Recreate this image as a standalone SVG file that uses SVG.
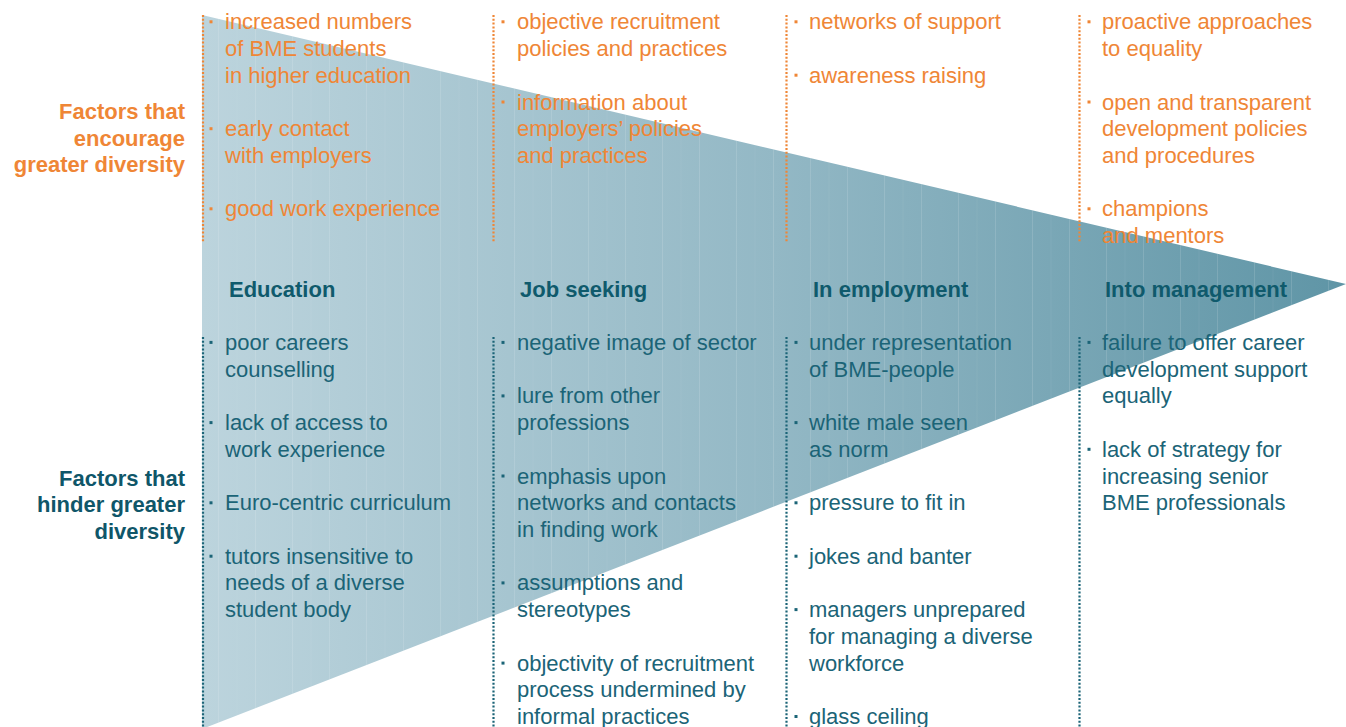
<svg xmlns="http://www.w3.org/2000/svg" width="1346" height="727" viewBox="0 0 1346 727">
  <style>
    text { font-family: "Liberation Sans", Arial, sans-serif; font-size: 22px; }
    .enc { fill: #ef8636; }
    .hin { fill: #1b6477; }
    .head { fill: #0f5a6c; font-weight: bold; }
    .lblEnc { fill: #ef8636; font-weight: bold; text-anchor: end; }
    .lblHin { fill: #0f5669; font-weight: bold; text-anchor: end; }
    .bEnc { fill: #ef8636; }
    .bHin { fill: #1b6477; }
    .dotEnc { stroke: #ef8636; stroke-width: 2.2; stroke-dasharray: 2 1.8; fill: none; }
    .dotHin { stroke: #1b6477; stroke-width: 2.2; stroke-dasharray: 2 1.8; fill: none; }
    .stripe { stroke: #ffffff; stroke-width: 1; }
  </style>
  <defs>
    <linearGradient id="wedgeFill" x1="202" y1="0" x2="1346" y2="0" gradientUnits="userSpaceOnUse">
      <stop offset="0" stop-color="#bcd4dd"/>
      <stop offset="0.5" stop-color="#93b8c5"/>
      <stop offset="1" stop-color="#5f95a6"/>
    </linearGradient>
    <clipPath id="wedgeClip">
      <polygon points="202,15 1346,284 202,729"/>
    </clipPath>
  </defs>

  <!-- wedge narrowing from education to management -->
  <g id="wedge">
    <polygon points="202,15 1346,284 202,729" fill="url(#wedgeFill)"/>
    <g clip-path="url(#wedgeClip)">
      <g class="stripe" stroke-opacity="0.13">
        <line x1="218.5" y1="0" x2="218.5" y2="727"/>
        <line x1="255.5" y1="0" x2="255.5" y2="727"/>
        <line x1="292.5" y1="0" x2="292.5" y2="727"/>
        <line x1="329.5" y1="0" x2="329.5" y2="727"/>
        <line x1="366.5" y1="0" x2="366.5" y2="727"/>
        <line x1="403.5" y1="0" x2="403.5" y2="727"/>
        <line x1="440.5" y1="0" x2="440.5" y2="727"/>
        <line x1="477.5" y1="0" x2="477.5" y2="727"/>
        <line x1="514.5" y1="0" x2="514.5" y2="727"/>
        <line x1="551.5" y1="0" x2="551.5" y2="727"/>
        <line x1="588.5" y1="0" x2="588.5" y2="727"/>
        <line x1="625.5" y1="0" x2="625.5" y2="727"/>
        <line x1="662.5" y1="0" x2="662.5" y2="727"/>
        <line x1="699.5" y1="0" x2="699.5" y2="727"/>
        <line x1="736.5" y1="0" x2="736.5" y2="727"/>
        <line x1="773.5" y1="0" x2="773.5" y2="727"/>
        <line x1="810.5" y1="0" x2="810.5" y2="727"/>
        <line x1="847.5" y1="0" x2="847.5" y2="727"/>
        <line x1="884.5" y1="0" x2="884.5" y2="727"/>
        <line x1="921.5" y1="0" x2="921.5" y2="727"/>
        <line x1="958.5" y1="0" x2="958.5" y2="727"/>
        <line x1="995.5" y1="0" x2="995.5" y2="727"/>
        <line x1="1032.5" y1="0" x2="1032.5" y2="727"/>
        <line x1="1069.5" y1="0" x2="1069.5" y2="727"/>
        <line x1="1106.5" y1="0" x2="1106.5" y2="727"/>
        <line x1="1143.5" y1="0" x2="1143.5" y2="727"/>
        <line x1="1180.5" y1="0" x2="1180.5" y2="727"/>
        <line x1="1217.5" y1="0" x2="1217.5" y2="727"/>
        <line x1="1254.5" y1="0" x2="1254.5" y2="727"/>
        <line x1="1291.5" y1="0" x2="1291.5" y2="727"/>
        <line x1="1328.5" y1="0" x2="1328.5" y2="727"/>
      </g>
      <g class="stripe" stroke-opacity="0.06">
        <line x1="237" y1="0" x2="237" y2="727"/>
        <line x1="311" y1="0" x2="311" y2="727"/>
        <line x1="385" y1="0" x2="385" y2="727"/>
        <line x1="459" y1="0" x2="459" y2="727"/>
        <line x1="533" y1="0" x2="533" y2="727"/>
        <line x1="607" y1="0" x2="607" y2="727"/>
        <line x1="681" y1="0" x2="681" y2="727"/>
        <line x1="755" y1="0" x2="755" y2="727"/>
        <line x1="829" y1="0" x2="829" y2="727"/>
        <line x1="903" y1="0" x2="903" y2="727"/>
        <line x1="977" y1="0" x2="977" y2="727"/>
        <line x1="1051" y1="0" x2="1051" y2="727"/>
        <line x1="1125" y1="0" x2="1125" y2="727"/>
        <line x1="1199" y1="0" x2="1199" y2="727"/>
        <line x1="1273" y1="0" x2="1273" y2="727"/>
      </g>
    </g>
  </g>

  <!-- row labels -->
  <g id="label-encourage">
    <text class="lblEnc" x="185" y="119">Factors that</text>
    <text class="lblEnc" x="185" y="145.7">encourage</text>
    <text class="lblEnc" x="185" y="172.4">greater diversity</text>
  </g>
  <g id="label-hinder">
    <text class="lblHin" x="185" y="485.5">Factors that</text>
    <text class="lblHin" x="185" y="512.2">hinder greater</text>
    <text class="lblHin" x="185" y="538.9">diversity</text>
  </g>

  <!-- column rules -->
  <g id="connectors">
    <line class="dotEnc" x1="203" y1="15" x2="203" y2="242"/>
    <line class="dotEnc" x1="493.5" y1="15" x2="493.5" y2="242"/>
    <line class="dotEnc" x1="786.5" y1="15" x2="786.5" y2="242"/>
    <line class="dotEnc" x1="1079.5" y1="15" x2="1079.5" y2="242"/>
    <line class="dotHin" x1="203" y1="337" x2="203" y2="727"/>
    <line class="dotHin" x1="493.5" y1="337" x2="493.5" y2="727"/>
    <line class="dotHin" x1="786.5" y1="337" x2="786.5" y2="727"/>
    <line class="dotHin" x1="1079.5" y1="337" x2="1079.5" y2="727"/>
  </g>

  <!-- Education -->
  <g id="col-education">
    <rect class="bEnc" x="209.5" y="20.3" width="3" height="3"/>
    <text class="enc" x="225" y="29.3">increased numbers</text>
    <text class="enc" x="225" y="56">of BME students</text>
    <text class="enc" x="225" y="82.7">in higher education</text>
    <rect class="bEnc" x="209.5" y="127.2" width="3" height="3"/>
    <text class="enc" x="225" y="136.2">early contact</text>
    <text class="enc" x="225" y="162.9">with employers</text>
    <rect class="bEnc" x="209.5" y="207.3" width="3" height="3"/>
    <text class="enc" x="225" y="216.3">good work experience</text>

    <text class="head" x="229" y="296.5">Education</text>

    <rect class="bHin" x="209.5" y="340.9" width="3" height="3"/>
    <text class="hin" x="225" y="349.9">poor careers</text>
    <text class="hin" x="225" y="376.7">counselling</text>
    <rect class="bHin" x="209.5" y="421.1" width="3" height="3"/>
    <text class="hin" x="225" y="430.1">lack of access to</text>
    <text class="hin" x="225" y="456.8">work experience</text>
    <rect class="bHin" x="209.5" y="501.3" width="3" height="3"/>
    <text class="hin" x="225" y="510.3">Euro-centric curriculum</text>
    <rect class="bHin" x="209.5" y="554.7" width="3" height="3"/>
    <text class="hin" x="225" y="563.7">tutors insensitive to</text>
    <text class="hin" x="225" y="590.4">needs of a diverse</text>
    <text class="hin" x="225" y="617.1">student body</text>
  </g>

  <!-- Job seeking -->
  <g id="col-job-seeking">
    <rect class="bEnc" x="501.5" y="20.3" width="3" height="3"/>
    <text class="enc" x="517" y="29.3">objective recruitment</text>
    <text class="enc" x="517" y="56">policies and practices</text>
    <rect class="bEnc" x="501.5" y="100.5" width="3" height="3"/>
    <text class="enc" x="517" y="109.5">information about</text>
    <text class="enc" x="517" y="136.2">employers’ policies</text>
    <text class="enc" x="517" y="162.9">and practices</text>

    <text class="head" x="520" y="296.5">Job seeking</text>

    <rect class="bHin" x="501.5" y="340.9" width="3" height="3"/>
    <text class="hin" x="517" y="349.9">negative image of sector</text>
    <rect class="bHin" x="501.5" y="394.4" width="3" height="3"/>
    <text class="hin" x="517" y="403.4">lure from other</text>
    <text class="hin" x="517" y="430.1">professions</text>
    <rect class="bHin" x="501.5" y="474.5" width="3" height="3"/>
    <text class="hin" x="517" y="483.5">emphasis upon</text>
    <text class="hin" x="517" y="510.3">networks and contacts</text>
    <text class="hin" x="517" y="537">in finding work</text>
    <rect class="bHin" x="501.5" y="581.4" width="3" height="3"/>
    <text class="hin" x="517" y="590.4">assumptions and</text>
    <text class="hin" x="517" y="617.1">stereotypes</text>
    <rect class="bHin" x="501.5" y="661.6" width="3" height="3"/>
    <text class="hin" x="517" y="670.6">objectivity of recruitment</text>
    <text class="hin" x="517" y="697.3">process undermined by</text>
    <text class="hin" x="517" y="724">informal practices</text>
  </g>

  <!-- In employment -->
  <g id="col-in-employment">
    <rect class="bEnc" x="794.5" y="20.3" width="3" height="3"/>
    <text class="enc" x="809" y="29.3">networks of support</text>
    <rect class="bEnc" x="794.5" y="73.7" width="3" height="3"/>
    <text class="enc" x="809" y="82.7">awareness raising</text>

    <text class="head" x="813" y="296.5">In employment</text>

    <rect class="bHin" x="794.5" y="340.9" width="3" height="3"/>
    <text class="hin" x="809" y="349.9">under representation</text>
    <text class="hin" x="809" y="376.7">of BME-people</text>
    <rect class="bHin" x="794.5" y="421.1" width="3" height="3"/>
    <text class="hin" x="809" y="430.1">white male seen</text>
    <text class="hin" x="809" y="456.8">as norm</text>
    <rect class="bHin" x="794.5" y="501.3" width="3" height="3"/>
    <text class="hin" x="809" y="510.3">pressure to fit in</text>
    <rect class="bHin" x="794.5" y="554.7" width="3" height="3"/>
    <text class="hin" x="809" y="563.7">jokes and banter</text>
    <rect class="bHin" x="794.5" y="608.1" width="3" height="3"/>
    <text class="hin" x="809" y="617.1">managers unprepared</text>
    <text class="hin" x="809" y="643.9">for managing a diverse</text>
    <text class="hin" x="809" y="670.6">workforce</text>
    <rect class="bHin" x="794.5" y="715" width="3" height="3"/>
    <text class="hin" x="809" y="724">glass ceiling</text>
  </g>

  <!-- Into management -->
  <g id="col-into-management">
    <rect class="bEnc" x="1087.5" y="20.3" width="3" height="3"/>
    <text class="enc" x="1102" y="29.3">proactive approaches</text>
    <text class="enc" x="1102" y="56">to equality</text>
    <rect class="bEnc" x="1087.5" y="100.5" width="3" height="3"/>
    <text class="enc" x="1102" y="109.5">open and transparent</text>
    <text class="enc" x="1102" y="136.2">development policies</text>
    <text class="enc" x="1102" y="162.9">and procedures</text>
    <rect class="bEnc" x="1087.5" y="207.3" width="3" height="3"/>
    <text class="enc" x="1102" y="216.3">champions</text>
    <text class="enc" x="1102" y="243.1">and mentors</text>

    <text class="head" x="1105" y="296.5">Into management</text>

    <rect class="bHin" x="1087.5" y="340.9" width="3" height="3"/>
    <text class="hin" x="1102" y="349.9">failure to offer career</text>
    <text class="hin" x="1102" y="376.7">development support</text>
    <text class="hin" x="1102" y="403.4">equally</text>
    <rect class="bHin" x="1087.5" y="447.8" width="3" height="3"/>
    <text class="hin" x="1102" y="456.8">lack of strategy for</text>
    <text class="hin" x="1102" y="483.5">increasing senior</text>
    <text class="hin" x="1102" y="510.3">BME professionals</text>
  </g>
</svg>
